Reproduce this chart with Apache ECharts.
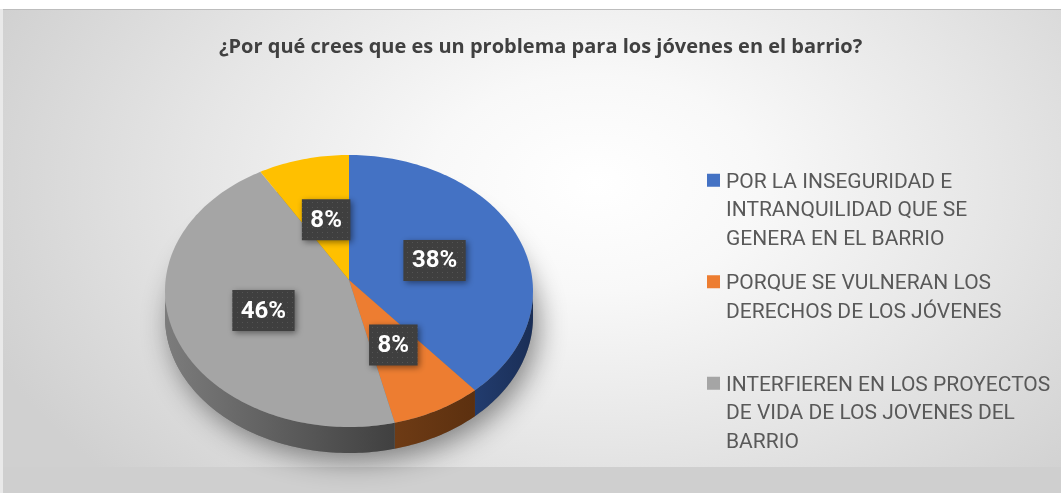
<!DOCTYPE html>
<html>
<head>
<meta charset="utf-8">
<script src="https://cdn.jsdelivr.net/npm/echarts@6/dist/echarts.min.js"></script>
<style>
  html, body { margin: 0; padding: 0; width: 1061px; height: 493px; overflow: hidden; background: #cfcfcf; }
  #topstrip { position: absolute; left: 0; top: 0; width: 1061px; height: 9px; background: #ffffff; }
  #leftstrip { position: absolute; left: 0; top: 9px; width: 3px; height: 484px; background: #e9e9e9; }
  #frame { position: absolute; left: 3px; top: 9px; width: 1058px; height: 458px; box-sizing: border-box;
           border-top: 1px solid #bdbdbd;
           background: radial-gradient(ellipse 62% 95% at 56% 38%, #ffffff 0%, #f8f8f8 25%, #e6e6e6 60%, #d0d0d0 100%); }
  #chart { position: absolute; left: 0; top: 0; width: 1061px; height: 493px; }
</style>
</head>
<body>
<div id="topstrip"></div>
<div id="leftstrip"></div>
<div id="frame"></div>
<div id="chart"></div>
<script>
// ---- data ----
const title = '¿Por qué crees que es un problema para los jóvenes en el barrio?';
const categories = [
  'POR LA INSEGURIDAD E INTRANQUILIDAD QUE SE GENERA EN EL BARRIO',
  'PORQUE SE VULNERAN LOS DERECHOS DE LOS JÓVENES',
  'INTERFIEREN EN LOS PROYECTOS DE VIDA DE LOS JOVENES DEL BARRIO',
  'OTRO MOTIVO'
];
const values = [38, 8, 46, 8];
const legendLabels = [
  'POR LA INSEGURIDAD E\nINTRANQUILIDAD QUE SE\nGENERA EN EL BARRIO',
  'PORQUE SE VULNERAN LOS\nDERECHOS DE LOS JÓVENES\n\u00a0',
  'INTERFIEREN EN LOS PROYECTOS\nDE VIDA DE LOS JOVENES DEL\nBARRIO'
];
const topColors = ['#4472C4', '#ED7D31', '#A5A5A5', '#FFC000'];
const sideColors = [['#223c6e', '#1a2e56'], ['#6e3b15', '#5c300f'], ['#7c7c7c', '#404040'], ['#8a6a00', '#7a5c00']];

// ---- layout (pixels) ----
const PIE = { cx: 349, cy: 291, vy: 280, rx: 184, ry: 136, depth: 26, labelF: 0.5 };
const LABEL_FONT = 'bold 24px Roboto, "Open Sans", sans-serif';
const LABEL_PAD_X = 8.5, LABEL_H = 41;

const total = values.reduce((a, b) => a + b, 0);
const starts = values.map((v, i) => values.slice(0, i).reduce((a, b) => a + b, 0) / total * Math.PI * 2);

// dotted pattern for label boxes
const patCanvas = document.createElement('canvas');
patCanvas.width = 5; patCanvas.height = 5;
(function () {
  const c = patCanvas.getContext('2d');
  c.fillStyle = '#3f3f3f'; c.fillRect(0, 0, 5, 5);
  c.fillStyle = '#545454'; c.fillRect(2, 2, 1, 1);
})();
const measureCtx = document.createElement('canvas').getContext('2d');
measureCtx.font = LABEL_FONT;

function rim(t, dy) {
  return [PIE.cx + PIE.rx * Math.sin(t), PIE.cy - PIE.ry * Math.cos(t) + (dy || 0)];
}
function arc(a, b, dy) {
  const pts = [];
  const n = Math.max(2, Math.ceil((b - a) / 0.02));
  for (let k = 0; k <= n; k++) pts.push(rim(a + (b - a) * k / n, dy));
  return pts;
}

function sliceSeries(i) {
  return {
    type: 'custom',
    name: categories[i],
    coordinateSystem: 'none',
    data: [values[i]],
    itemStyle: { color: topColors[i] },
    z: 3,
    silent: true,
    renderItem: function (params, api) {
      const v = api.value(0);
      const a = starts[i];
      const b = a + v / total * Math.PI * 2;
      const children = [];
      const lo = Math.max(a, Math.PI / 2), hi = Math.min(b, Math.PI * 1.5);
      if (hi > lo) {
        const top = arc(lo, hi, 0);
        const bot = arc(lo, hi, PIE.depth).reverse();
        children.push({
          type: 'polygon',
          shape: { points: top.concat(bot) },
          style: {
            fill: new echarts.graphic.LinearGradient(0, 0, 1, 0, [
              { offset: 0, color: sideColors[i][0] }, { offset: 1, color: sideColors[i][1] }
            ])
          }
        });
      }
      const V = [PIE.cx, PIE.vy];
      children.push({
        type: 'polygon',
        shape: { points: [V].concat(arc(a, b, 0)) },
        style: { fill: topColors[i] }
      });
      const m = (a + b) / 2;
      const r = rim(m, 0);
      const lx = V[0] + PIE.labelF * (r[0] - V[0]);
      const ly = V[1] + PIE.labelF * (r[1] - V[1]);
      const txt = Math.round(v / total * 100) + '%';
      const w = measureCtx.measureText(txt).width + LABEL_PAD_X * 2;
      children.push({
        type: 'rect',
        z2: 9,
        shape: { x: lx - w / 2, y: ly - LABEL_H / 2, width: w, height: LABEL_H },
        style: {
          fill: { image: patCanvas, repeat: 'repeat' },
          shadowBlur: 6, shadowColor: 'rgba(0,0,0,0.45)', shadowOffsetX: 2, shadowOffsetY: 2
        }
      });
      children.push({
        type: 'text',
        z2: 10,
        style: {
          text: txt, x: lx, y: ly + 1,
          align: 'center', verticalAlign: 'middle',
          fill: '#ffffff', font: LABEL_FONT
        }
      });
      return { type: 'group', children: children };
    }
  };
}

const shadowSeries = {
  type: 'custom',
  coordinateSystem: 'none',
  data: [0],
  z: 1,
  silent: true,
  renderItem: function () {
    return {
      type: 'polygon',
      shape: { points: arc(0, Math.PI * 2, PIE.depth) },
      style: { fill: '#777', shadowBlur: 28, shadowColor: 'rgba(0,0,0,0.45)', shadowOffsetX: 5, shadowOffsetY: 8 }
    };
  }
};

const legendIcon = 'path://M0,0h0.01v0.01h-0.01z M0,5.75h13v13h-13z M0,85.49h0.01v0.01h-0.01z';

const chart = echarts.init(document.getElementById('chart'), null, { renderer: 'canvas' });
chart.setOption({
  backgroundColor: 'transparent',
  animation: false,
  title: {
    text: title,
    left: 214,
    top: 32,
    textStyle: { color: '#404040', fontSize: 20, fontWeight: 'bold', fontFamily: '"Open Sans", Roboto, sans-serif' }
  },
  legend: {
    orient: 'vertical',
    left: 707,
    top: 168,
    padding: 0,
    itemWidth: 13,
    itemHeight: 85.5,
    itemGap: 16,
    selectedMode: false,
    icon: legendIcon,
    data: categories.slice(0, 3),
    formatter: function (name) { return legendLabels[categories.indexOf(name)]; },
    textStyle: { color: '#595959', fontSize: 21, lineHeight: 28.5, fontFamily: 'Roboto, "Open Sans", sans-serif', padding: [0, 0, 0, 1] }
  },
  series: [shadowSeries].concat(categories.map((c, i) => sliceSeries(i)))
});
</script>
</body>
</html>
